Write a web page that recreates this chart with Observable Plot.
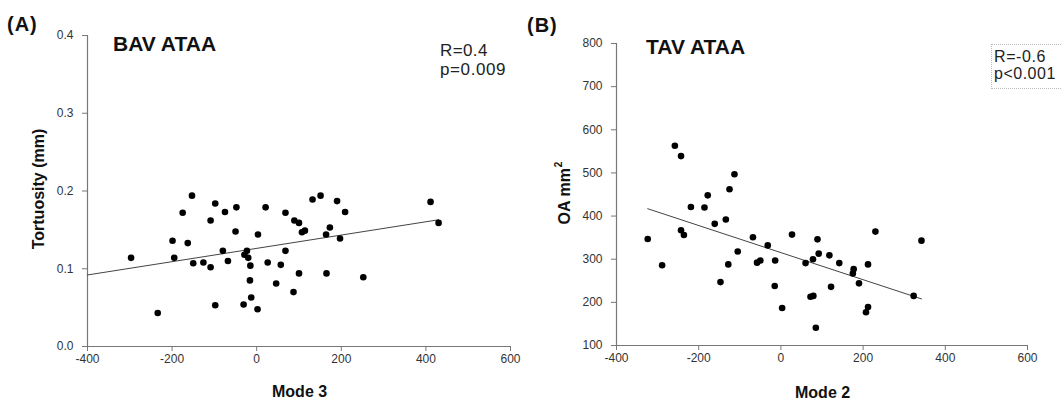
<!DOCTYPE html>
<html>
<head>
<meta charset="utf-8">
<script src="https://cdn.jsdelivr.net/npm/d3@7"></script>
<script src="https://cdn.jsdelivr.net/npm/@observablehq/plot@0.6"></script>
<style>
  html, body { margin: 0; padding: 0; background: #fff; }
  #wrap { position: relative; width: 1062px; height: 404px; overflow: hidden; font-family: "Liberation Sans", Arial, sans-serif; color: #111; }
  #wrap > svg { position: absolute; top: 0; }
  .t { position: absolute; line-height: 1; white-space: nowrap; }
  .b { font-weight: bold; }
  .rot { position: absolute; line-height: 1; white-space: nowrap; font-weight: bold; font-size: 16px; transform: translate(-50%, -50%) rotate(-90deg); }
</style>
</head>
<body>
<div id="wrap"></div>
<script>
// ---- Panel A data (BAV ATAA) ----
const modeA = [-297, -234, -199, -195, -175, -163, -153, -150, -126, -109, -109, -98, -98, -80, -75, -68, -50, -48, -31, -29, -23, -20, -15, -16, -13, 2, 3, 21, 26, 46, 57, 68, 68, 87, 89, 100, 100, 107, 114, 132, 151, 164, 165, 173, 190, 197, 209, 252, 411, 430];
const tortuosity = [0.114, 0.043, 0.136, 0.114, 0.172, 0.133, 0.194, 0.107, 0.108, 0.162, 0.102, 0.184, 0.053, 0.123, 0.173, 0.110, 0.148, 0.179, 0.054, 0.118, 0.123, 0.114, 0.104, 0.085, 0.063, 0.048, 0.144, 0.179, 0.108, 0.081, 0.105, 0.172, 0.123, 0.070, 0.162, 0.159, 0.094, 0.147, 0.149, 0.189, 0.194, 0.144, 0.094, 0.153, 0.187, 0.139, 0.173, 0.089, 0.186, 0.159];
const trendA_x = [-400, 430];
const trendA_y = [0.092, 0.163];
const xTicksA = [-400, -200, 0, 200, 400, 600];
const yTicksA = [0.0, 0.1, 0.2, 0.3, 0.4];

// ---- Panel B data (TAV ATAA) ----
const modeB = [-324, -289, -258, -243, -243, -236, -219, -186, -178, -161, -147, -134, -128, -125, -113, -105, -68, -58, -50, -32, -15, -14, 3, 27, 60, 72, 79, 78, 85, 89, 92, 118, 122, 142, 175, 177, 190, 207, 212, 212, 230, 323, 342];
const oa = [347, 286, 563, 539, 367, 356, 421, 420, 448, 382, 247, 392, 288, 462, 497, 318, 351, 292, 297, 332, 238, 297, 187, 357, 291, 213, 215, 300, 141, 346, 313, 309, 236, 291, 267, 277, 244, 177, 189, 288, 364, 215, 343];
const trendB_x = [-324, 342];
const trendB_y = [417, 208];
const xTicksB = [-400, -200, 0, 200, 400, 600];
const yTicksB = [100, 200, 300, 400, 500, 600, 700, 800];

const ptsA = modeA.map((x, i) => ({x, y: tortuosity[i]}));
const lineA = trendA_x.map((x, i) => ({x, y: trendA_y[i]}));
const ptsB = modeB.map((x, i) => ({x, y: oa[i]}));
const lineB = trendB_x.map((x, i) => ({x, y: trendB_y[i]}));

const style = {fontFamily: '"Liberation Sans", Arial, sans-serif', fontSize: "12px", color: "#333", background: "transparent", overflow: "visible"};

function panel(pts, line, xd, yd, xt, yt, yfmt, w, ml, mr, mt, mb) {
  return Plot.plot({
    width: w, height: 404,
    marginLeft: ml, marginRight: mr, marginTop: mt, marginBottom: mb,
    style,
    x: {domain: xd},
    y: {domain: yd},
    marks: [
      Plot.axisX({ticks: xt, tickSize: 5, tickPadding: 3, label: null, tickFormat: d => String(d), stroke: "#777"}),
      Plot.axisY({ticks: yt, tickSize: 5, tickPadding: 9, label: null, tickFormat: yfmt, stroke: "#777"}),
      Plot.ruleY([yd[0]], {stroke: "#777", strokeWidth: 1.2}),
      Plot.ruleX([xd[0]], {stroke: "#777", strokeWidth: 1.2}),
      Plot.line(line, {x: "x", y: "y", stroke: "#444", strokeWidth: 1}),
      Plot.dot(pts, {x: "x", y: "y", r: 3.3, fill: "#000", stroke: "none"})
    ]
  });
}

const wrap = document.getElementById("wrap");
const svgA = panel(ptsA, lineA, [-400, 600], [0, 0.4], xTicksA, yTicksA, d => d.toFixed(1), 530, 87, 20, 35, 58);
svgA.style.left = "0px";
wrap.appendChild(svgA);
const svgB = panel(ptsB, lineB, [-400, 600], [100, 800], xTicksB, yTicksB, d => String(d), 532, 86, 35, 43, 59);
svgB.style.left = "530px";
wrap.appendChild(svgB);

// text overlays: baseline -> top = baseline - 0.8465*fontSize
function txt(html, left, baseline, size, bold, extra) {
  const d = document.createElement("div");
  d.className = "t" + (bold ? " b" : "");
  d.style.left = left + "px";
  d.style.top = (baseline - 0.8465 * size) + "px";
  d.style.fontSize = size + "px";
  if (extra) Object.assign(d.style, extra);
  d.innerHTML = html;
  wrap.appendChild(d);
  return d;
}
function rot(html, cx, cy) {
  const d = document.createElement("div");
  d.className = "rot";
  d.style.left = cx + "px";
  d.style.top = cy + "px";
  d.innerHTML = html;
  wrap.appendChild(d);
}

txt("(A)", 7, 31, 20, true, {letterSpacing: "1px"});
txt("(B)", 527, 32, 20, true, {letterSpacing: "1px"});
txt("BAV ATAA", 113, 50.5, 21, true);
txt("TAV ATAA", 646, 54, 21, true);
txt("R=0.4", 440, 56, 17, false, {color: "#222", letterSpacing: "0.4px"});
txt("p=0.009", 440, 75, 17, false, {color: "#222", letterSpacing: "0.6px"});

const box = document.createElement("div");
box.style.cssText = "position:absolute;left:991px;top:44px;width:90px;height:45px;border:1px dotted #bbb;box-sizing:border-box;";
wrap.appendChild(box);
txt("R=-0.6", 994, 62.5, 16, false, {color: "#222", letterSpacing: "0.6px"});
txt("p&lt;0.001", 994, 79.5, 16, false, {color: "#222", letterSpacing: "0.5px"});

txt("Mode 3", 272, 398, 16, true);
txt("Mode 2", 795, 399, 16, true);
rot("Tortuosity (mm)", 38.5, 188.5);
rot('OA mm<span style="font-size:10px;vertical-align:8px;line-height:0;margin-left:1px">2</span>', 565, 193);
</script>
</body>
</html>
